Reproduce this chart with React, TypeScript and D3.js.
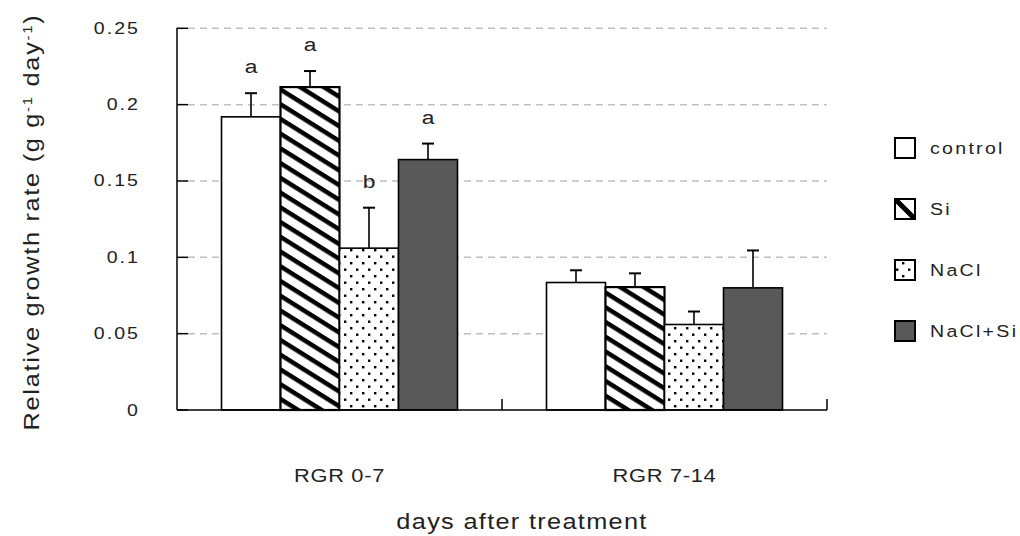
import React from "react";
import * as d3 from "d3";

const periods = ["RGR 0-7", "RGR 7-14"];
const treatments = ["control", "Si", "NaCl", "NaCl+Si"];
const meanRgr07 = [0.192, 0.2115, 0.106, 0.164];
const meanRgr714 = [0.0835, 0.0805, 0.056, 0.08];
const errRgr07 = [0.0155, 0.0105, 0.0265, 0.0105];
const errRgr714 = [0.008, 0.009, 0.0085, 0.0245];
const lettersRgr07 = ["a", "a", "b", "a"];
const yTicks = [0, 0.05, 0.1, 0.15, 0.2, 0.25];
const yTickLabels = ["0", "0.05", "0.1", "0.15", "0.2", "0.25"];

const means = [meanRgr07, meanRgr714];
const errs = [errRgr07, errRgr714];
const letters = [lettersRgr07, ["", "", "", ""]];

const W = 1020;
const H = 536;
const left = 177;
const right = 827;
const top = 28.3;
const bottom = 410;
const FONT = "'Liberation Sans', Arial, sans-serif";
const INK = "#222";

const fills = ["#ffffff", "url(#stripes)", "url(#dots)", "#595959"];

// Text with a slight horizontal stretch and extra tracking.
function WideText({
  x,
  y,
  k = 1.15,
  ls = 0,
  size,
  anchor = "start",
  rotate = 0,
  children,
}: {
  x: number;
  y: number;
  k?: number;
  ls?: number;
  size: number;
  anchor?: string;
  rotate?: number;
  children: React.ReactNode;
}) {
  return (
    <text
      transform={`translate(${x},${y}) rotate(${rotate}) scale(${k},1)`}
      textAnchor={anchor}
      fontSize={size}
      letterSpacing={ls}
      fill={INK}
    >
      {children}
    </text>
  );
}

export default function App() {
  const x = d3.scaleBand<string>().domain(periods).range([left, right]);
  const inner = d3
    .scaleBand<string>()
    .domain(treatments)
    .range([44.5, 280.5]);
  const y = d3.scaleLinear().domain([0, 0.25]).range([bottom, top]);

  return (
    <svg
      width={W}
      height={H}
      style={{ position: "absolute", left: 0, top: 0, background: "#fff" }}
      fontFamily={FONT}
    >
      <defs>
        <pattern
          id="stripes"
          patternUnits="userSpaceOnUse"
          width={40}
          height={12.5}
          patternTransform="rotate(32)"
        >
          <rect x={0} y={0} width={40} height={12.5} fill="#fff" />
          <rect x={0} y={0} width={40} height={4.5} fill="#000" />
        </pattern>
        <pattern id="dots" patternUnits="userSpaceOnUse" width={12} height={13}>
          <rect x={0} y={0} width={12} height={13} fill="#fff" />
          <rect x={2} y={2} width={2.4} height={2.4} fill="#000" />
          <rect x={8} y={8.5} width={2.4} height={2.4} fill="#000" />
        </pattern>
        <clipPath id="legSi">
          <rect x={895} y={148 + 61 - 10} width={20} height={20} />
        </clipPath>
      </defs>

      {/* gridlines */}
      {yTicks.slice(1).map((t) => (
        <line
          key={"g" + t}
          x1={188}
          x2={right}
          y1={y(t)}
          y2={y(t)}
          stroke="#c0c0c0"
          strokeWidth={1.5}
          strokeDasharray="7,5"
        />
      ))}

      {/* bars with upward error bars */}
      {periods.map((p, gi) =>
        treatments.map((tr, si) => {
          const bx = (x(p) as number) + (inner(tr) as number);
          const bw = inner.bandwidth();
          const v = means[gi][si];
          const e = errs[gi][si];
          const cx = bx + bw / 2;
          return (
            <g key={p + tr}>
              <rect
                x={bx}
                y={y(v)}
                width={bw}
                height={bottom - y(v)}
                fill={fills[si]}
                stroke="#000"
                strokeWidth={si === 1 ? 2.2 : 1.6}
              />
              <line x1={cx} x2={cx} y1={y(v)} y2={y(v + e)} stroke="#000" strokeWidth={1.6} />
              <line x1={cx - 6} x2={cx + 6} y1={y(v + e)} y2={y(v + e)} stroke="#000" strokeWidth={2} />
              {letters[gi][si] && (
                <WideText x={cx} y={y(v + e) - 20} k={1.2} size={19} anchor="middle">
                  {letters[gi][si]}
                </WideText>
              )}
            </g>
          );
        })
      )}

      {/* axes */}
      <line x1={left} x2={left} y1={top - 0.5} y2={bottom} stroke="#000" strokeWidth={1.5} />
      {yTicks.map((t) => (
        <line key={"t" + t} x1={left} x2={188} y1={y(t)} y2={y(t)} stroke="#000" strokeWidth={1.5} />
      ))}
      <line x1={left} x2={right} y1={bottom} y2={bottom} stroke="#000" strokeWidth={1.5} />
      {[...periods.map((p) => x(p) as number), right].slice(1).map((px) => (
        <line key={"xt" + px} x1={px} x2={px} y1={bottom} y2={bottom - 11} stroke="#000" strokeWidth={1.5} />
      ))}

      {/* y tick labels */}
      {yTicks.map((t, i) => (
        <WideText key={"yl" + t} x={140} y={y(t) + 5.5} ls={1.8} size={17} anchor="end">
          {yTickLabels[i]}
        </WideText>
      ))}

      {/* category labels */}
      {periods.map((p) => (
        <WideText
          key={"c" + p}
          x={(x(p) as number) + x.bandwidth() / 2}
          y={482}
          ls={0.6}
          size={19}
          anchor="middle"
        >
          {p}
        </WideText>
      ))}

      {/* axis titles */}
      <WideText x={522} y={529} ls={1.15} size={22} anchor="middle">
        days after treatment
      </WideText>
      <WideText x={39} y={222} ls={1.5} size={22} anchor="middle" rotate={-90}>
        Relative growth rate (g g
        <tspan baselineShift="super" fontSize={13}>-1</tspan> day
        <tspan baselineShift="super" fontSize={13}>-1</tspan>)
      </WideText>

      {/* legend */}
      {treatments.map((tr, i) => {
        const cy = 148 + i * 61;
        return (
          <g key={"l" + tr}>
            <rect
              x={895}
              y={cy - 10}
              width={20}
              height={20}
              fill={i === 1 ? "#fff" : fills[i]}
              stroke="#000"
              strokeWidth={2}
            />
            {i === 1 && (
              <line
                x1={895}
                y1={cy - 10}
                x2={915}
                y2={cy + 10}
                stroke="#000"
                strokeWidth={5}
                clipPath="url(#legSi)"
              />
            )}
            <WideText x={930} y={cy + 6} ls={2} size={17}>
              {tr}
            </WideText>
          </g>
        );
      })}
    </svg>
  );
}
